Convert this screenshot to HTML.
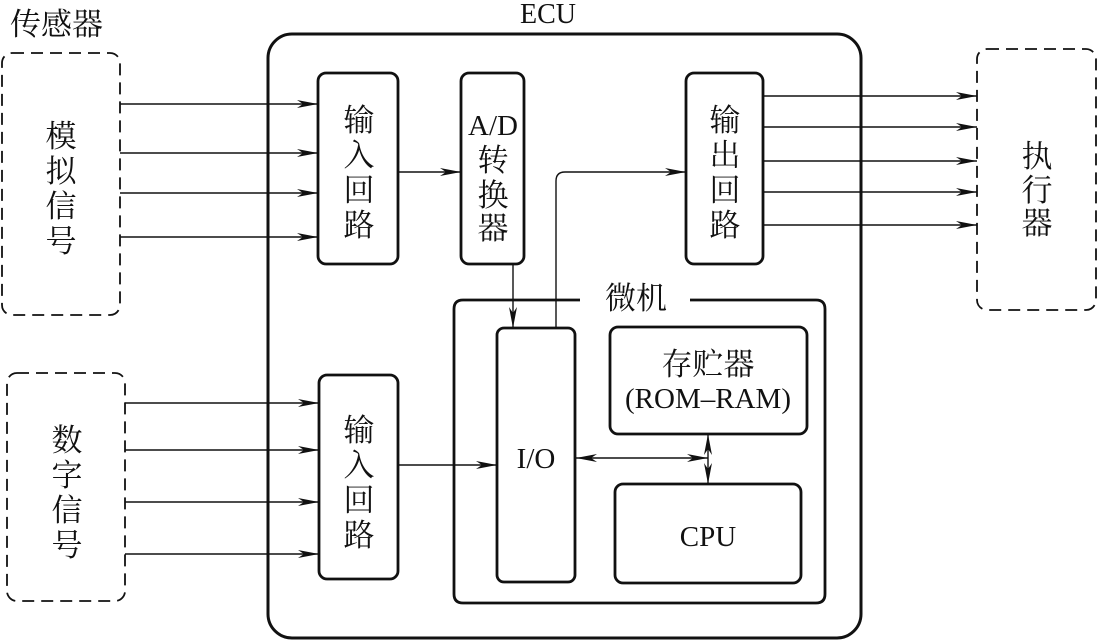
<!DOCTYPE html>
<html><head><meta charset="utf-8"><style>
html,body{margin:0;padding:0;background:#fff;}
svg{display:block;}
text{font-family:"Liberation Serif","Noto Serif CJK SC",serif;fill:#111;}
.c{font-size:31px;}
</style></head><body>
<svg width="1097" height="640" viewBox="0 0 1097 640" xmlns="http://www.w3.org/2000/svg">
<defs>
<marker id="a" markerWidth="22" markerHeight="10" refX="21" refY="5" orient="auto" markerUnits="userSpaceOnUse">
<path d="M0,1 L21,5 L0,9 L6,5 Z" fill="#111"/>
</marker>
<marker id="s" markerWidth="22" markerHeight="10" refX="21" refY="5" orient="auto-start-reverse" markerUnits="userSpaceOnUse">
<path d="M0,1 L21,5 L0,9 L6,5 Z" fill="#111"/>
</marker>
</defs>
<g fill="none" stroke="#111">
<rect x="2" y="53" width="118" height="262" rx="10" stroke-width="1.8" stroke-dasharray="12,7"/>
<rect x="7" y="373" width="118" height="228" rx="10" stroke-width="1.8" stroke-dasharray="12,7"/>
<rect x="977" y="49" width="119" height="261" rx="10" stroke-width="1.8" stroke-dasharray="12,7"/>
<rect x="268" y="34" width="593" height="604" rx="24" stroke-width="3"/>
<rect x="318" y="73" width="80" height="191" rx="8" stroke-width="2.8"/>
<rect x="461" y="73" width="63" height="191" rx="8" stroke-width="2.8"/>
<rect x="686" y="73" width="77" height="191" rx="8" stroke-width="2.8"/>
<rect x="319" y="375" width="79" height="204" rx="8" stroke-width="2.8"/>
<path d="M580,300 H463 Q454,300 454,309 V594 Q454,603 463,603 H816 Q825,603 825,594 V309 Q825,300 816,300 H690" stroke-width="2.8"/>
<rect x="497" y="328" width="78" height="254" rx="7" stroke-width="2.8"/>
<rect x="610" y="327" width="197" height="107" rx="8" stroke-width="2.8"/>
<rect x="615" y="484" width="186" height="99" rx="8" stroke-width="2.8"/>
<g stroke-width="1.4">
<line x1="120" y1="104" x2="318" y2="104" marker-end="url(#a)"/>
<line x1="120" y1="153" x2="318" y2="153" marker-end="url(#a)"/>
<line x1="120" y1="193" x2="318" y2="193" marker-end="url(#a)"/>
<line x1="120" y1="237" x2="318" y2="237" marker-end="url(#a)"/>
<line x1="125" y1="403" x2="319" y2="403" marker-end="url(#a)"/>
<line x1="125" y1="450" x2="319" y2="450" marker-end="url(#a)"/>
<line x1="125" y1="502" x2="319" y2="502" marker-end="url(#a)"/>
<line x1="125" y1="554" x2="319" y2="554" marker-end="url(#a)"/>
<line x1="763" y1="96" x2="977" y2="96" marker-end="url(#a)"/>
<line x1="763" y1="127" x2="977" y2="127" marker-end="url(#a)"/>
<line x1="763" y1="161" x2="977" y2="161" marker-end="url(#a)"/>
<line x1="763" y1="192" x2="977" y2="192" marker-end="url(#a)"/>
<line x1="763" y1="225" x2="977" y2="225" marker-end="url(#a)"/>
<line x1="398" y1="172" x2="461" y2="172" marker-end="url(#a)"/>
<line x1="513" y1="264" x2="513" y2="328" marker-end="url(#a)"/>
<path d="M556,328 V181 Q556,172 565,172 H686" marker-end="url(#a)"/>
<line x1="398" y1="465" x2="497" y2="465" marker-end="url(#a)"/>
<line x1="576" y1="458" x2="708" y2="458" marker-start="url(#s)" marker-end="url(#a)"/>
<line x1="708" y1="434" x2="708" y2="484" marker-start="url(#s)" marker-end="url(#a)"/>
</g>
</g>
<text x="10" y="35" class="c">传感器</text>
<text x="548" y="23" font-size="28" text-anchor="middle">ECU</text>
<g class="c" text-anchor="middle">
<text x="61" y="147">模</text><text x="61" y="182">拟</text><text x="61" y="217">信</text><text x="61" y="252">号</text>
<text x="67" y="451">数</text><text x="67" y="486">字</text><text x="67" y="521">信</text><text x="67" y="556">号</text>
<text x="1037" y="167">执</text><text x="1037" y="201">行</text><text x="1037" y="234">器</text>
<text x="359" y="131">输</text><text x="359" y="166">入</text><text x="359" y="201">回</text><text x="359" y="236">路</text>
<text x="359" y="441">输</text><text x="359" y="476">入</text><text x="359" y="511">回</text><text x="359" y="546">路</text>
<text x="725" y="131">输</text><text x="725" y="166">出</text><text x="725" y="201">回</text><text x="725" y="236">路</text>
<text x="493" y="135" font-size="29">A/D</text>
<text x="493" y="171">转</text><text x="493" y="206">换</text><text x="493" y="239">器</text>
<text x="636" y="309">微机</text>
<text x="708" y="375">存贮器</text>
<text x="708" y="408" font-size="29">(ROM–RAM)</text>
<text x="536" y="468" font-size="29">I/O</text>
<text x="708" y="546" font-size="29">CPU</text>
</g>
</svg>
</body></html>
